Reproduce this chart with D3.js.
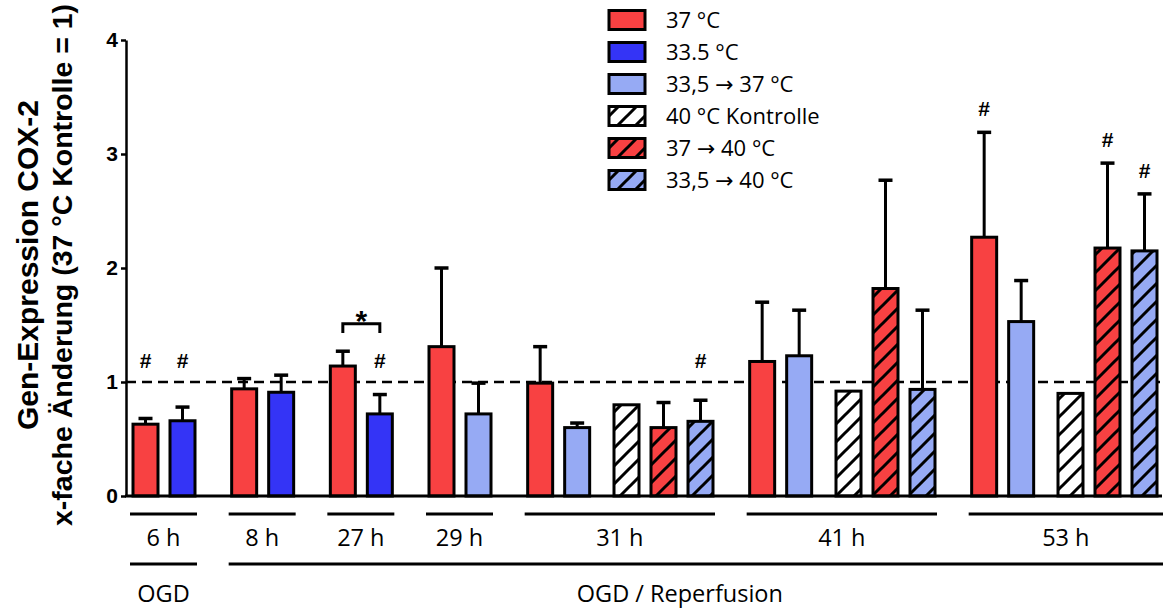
<!DOCTYPE html>
<html>
<head>
<meta charset="utf-8">
<script src="https://cdn.jsdelivr.net/npm/d3@7"></script>
<style>
  body { margin: 0; background: #fff; }
  #chart svg { display: block; }
</style>
</head>
<body>
<div id="chart"></div>
<script>
// Time points and the bars drawn at each of them
const groupLabels = ["6 h", "8 h", "27 h", "29 h", "31 h", "41 h", "53 h"];
const seriesNames = ["37 °C", "33.5 °C", "33,5 → 37 °C", "40 °C Kontrolle", "37 → 40 °C", "33,5 → 40 °C"];
const groupSeries = [[0, 1], [0, 1], [0, 1], [0, 2], [0, 2, 3, 4, 5], [0, 2, 3, 4, 5], [0, 2, 3, 4, 5]];
const groupMeans = [
    [0.63, 0.66],
    [0.94, 0.91],
    [1.14, 0.72],
    [1.31, 0.72],
    [0.99, 0.60, 0.80, 0.60, 0.655],
    [1.18, 1.23, 0.92, 1.82, 0.935],
    [2.27, 1.53, 0.90, 2.175, 2.15]
];
const groupErrors = [
    [0.05, 0.12],
    [0.09, 0.15],
    [0.13, 0.17],
    [0.69, 0.27],
    [0.32, 0.04, 0, 0.22, 0.185],
    [0.52, 0.40, 0, 0.95, 0.695],
    [0.92, 0.36, 0, 0.745, 0.50]
];
// "#" marks above single bars
const groupHash = [[1, 1], [0, 0], [0, 1], [0, 0], [0, 0, 0, 0, 1], [0, 0, 0, 0, 0], [1, 0, 0, 1, 1]];
// "*" bracket: group index, first bar, second bar
const sigPairs = [{ group: 2, a: 0, b: 1, label: "*" }];
// lower row of the x axis: label and the groups it covers
const phaseLabels = [{ label: "OGD", from: 0, to: 0 }, { label: "OGD / Reperfusion", from: 1, to: 6 }];
const yTicks = [0, 1, 2, 3, 4];

const seriesFill = ["#f84142", "#3434f6", "#96aaf4", "url(#hatch-white)", "url(#hatch-red)", "url(#hatch-light)"];

function renderChart() {
    const container = d3.select("#chart");
    container.html("");

    const width = 1163, height = 608;
    const svg = container.append("svg")
        .attr("width", width)
        .attr("height", height);

    // hatch patterns
    const defs = svg.append("defs");
    [["hatch-white", "#ffffff"], ["hatch-red", "#f84142"], ["hatch-light", "#96aaf4"]].forEach(([id, bg]) => {
        const p = defs.append("pattern")
            .attr("id", id)
            .attr("patternUnits", "userSpaceOnUse")
            .attr("width", 18)
            .attr("height", 18);
        p.append("rect").attr("width", 18).attr("height", 18).attr("fill", bg);
        p.append("path")
            .attr("d", "M-4.5,4.5 L4.5,-4.5 M0,18 L18,0 M13.5,22.5 L22.5,13.5")
            .attr("stroke", "#000")
            .attr("stroke-width", 3);
    });

    // flatten bars, with slot positions (gap 2/3 between groups, 1/3 inside the 5-bar groups)
    const bars = [];
    let pos = 0;
    groupSeries.forEach((list, g) => {
        if (g > 0) pos += 2 / 3;
        list.forEach((s, i) => {
            if (list.length === 5 && i === 2) pos += 1 / 3;
            bars.push({
                group: g, idx: i, series: s, slot: pos,
                mean: groupMeans[g][i], err: groupErrors[g][i], hash: groupHash[g][i]
            });
            pos += 1;
        });
    });

    const x = d3.scaleLinear().domain([0, pos]).range([133, 133 + pos * 37]);
    const barW = 25;
    const y = d3.scaleLinear().domain([0, 4]).range([496, 40]);

    const boldFont = "Liberation Sans, Arial, sans-serif";
    const labFont = "Open Sans, Noto Sans, sans-serif";

    // dashed reference line at 1
    svg.append("line")
        .attr("x1", 126).attr("x2", 1162)
        .attr("y1", y(1)).attr("y2", y(1))
        .attr("stroke", "#000")
        .attr("stroke-width", 2.5)
        .attr("stroke-dasharray", "10,6");

    // error bars (upwards only)
    const eb = svg.selectAll(".err")
        .data(bars.filter(d => d.err > 0))
        .join("g")
        .attr("class", "err");
    eb.append("line")
        .attr("x1", d => x(d.slot) + barW / 2).attr("x2", d => x(d.slot) + barW / 2)
        .attr("y1", d => y(d.mean)).attr("y2", d => y(d.mean + d.err))
        .attr("stroke", "#000").attr("stroke-width", 3);
    eb.append("line")
        .attr("x1", d => x(d.slot) + barW / 2 - 7).attr("x2", d => x(d.slot) + barW / 2 + 7)
        .attr("y1", d => y(d.mean + d.err)).attr("y2", d => y(d.mean + d.err))
        .attr("stroke", "#000").attr("stroke-width", 3.5);

    // bars
    svg.selectAll(".bar")
        .data(bars)
        .join("rect")
        .attr("class", "bar")
        .attr("x", d => x(d.slot))
        .attr("y", d => y(d.mean))
        .attr("width", barW)
        .attr("height", d => y(0) - y(d.mean))
        .attr("fill", d => seriesFill[d.series])
        .attr("stroke", "#000")
        .attr("stroke-width", 3);

    // # marks
    svg.selectAll(".hash")
        .data(bars.filter(d => d.hash))
        .join("text")
        .attr("class", "hash")
        .attr("x", d => x(d.slot) + barW / 2)
        .attr("y", d => Math.min(y(d.mean + d.err) - 16, y(1.12)))
        .attr("text-anchor", "middle")
        .attr("font-family", boldFont)
        .attr("font-weight", "bold")
        .attr("font-size", 21)
        .text("#");

    // significance bracket
    sigPairs.forEach(p => {
        const ba = bars.find(d => d.group === p.group && d.idx === p.a);
        const bb = bars.find(d => d.group === p.group && d.idx === p.b);
        const x1 = x(ba.slot) + barW / 2, x2 = x(bb.slot) + barW / 2;
        svg.append("path")
            .attr("d", `M${x1},${y(1.43)} V${y(1.51)} H${x2} V${y(1.43)}`)
            .attr("fill", "none")
            .attr("stroke", "#000")
            .attr("stroke-width", 3);
        svg.append("text")
            .attr("x", (x1 + x2) / 2)
            .attr("y", y(1.51) + 7)
            .attr("text-anchor", "middle")
            .attr("font-family", boldFont)
            .attr("font-weight", "bold")
            .attr("font-size", 30)
            .text(p.label);
    });

    // y axis
    const yAxis = svg.append("g")
        .attr("transform", "translate(126,0)")
        .call(d3.axisLeft(y).tickValues(yTicks).tickFormat(d3.format("d")).tickSize(5).tickSizeOuter(0).tickPadding(3));
    yAxis.select(".domain").attr("stroke-width", 2.5);
    yAxis.selectAll(".tick line").attr("stroke-width", 2.5);
    yAxis.selectAll(".tick text")
        .attr("font-family", boldFont)
        .attr("font-weight", "bold")
        .attr("font-size", 21)
        .attr("fill", "#000");

    // x axis baseline
    svg.append("line")
        .attr("x1", 125).attr("x2", 1162)
        .attr("y1", y(0)).attr("y2", y(0))
        .attr("stroke", "#000").attr("stroke-width", 3);

    // group underlines and labels
    const groupExtent = groupLabels.map((lab, g) => {
        const gb = bars.filter(d => d.group === g);
        return { label: lab, x0: x(gb[0].slot) - 3, x1: x(gb[gb.length - 1].slot) + barW + 2 };
    });
    groupExtent[groupExtent.length - 1].x1 = 1163;

    svg.selectAll(".gline")
        .data(groupExtent)
        .join("line")
        .attr("x1", d => d.x0).attr("x2", d => d.x1)
        .attr("y1", 514).attr("y2", 514)
        .attr("stroke", "#000").attr("stroke-width", 3);
    svg.selectAll(".glabel")
        .data(groupExtent)
        .join("text")
        .attr("x", d => (d.x0 + d.x1) / 2)
        .attr("y", 545.5)
        .attr("text-anchor", "middle")
        .attr("font-family", labFont)
        .attr("font-size", 23.5)
        .text(d => d.label);

    const phases = phaseLabels.map(p => ({
        label: p.label,
        x0: groupExtent[p.from].x0,
        x1: groupExtent[p.to].x1
    }));
    svg.selectAll(".pline")
        .data(phases)
        .join("line")
        .attr("x1", d => d.x0).attr("x2", d => d.x1)
        .attr("y1", 564).attr("y2", 564)
        .attr("stroke", "#000").attr("stroke-width", 3);
    svg.selectAll(".plabel")
        .data(phases)
        .join("text")
        .attr("x", (d, i) => (d.x0 + d.x1) / 2 - (i > 0 ? 16 : 0))
        .attr("y", 601.5)
        .attr("text-anchor", "middle")
        .attr("font-family", labFont)
        .attr("font-size", 23.5)
        .text(d => d.label);

    // y title, two lines
    const cy = y(2) - 3;
    svg.append("text")
        .attr("transform", `translate(38,${cy}) rotate(-90)`)
        .attr("text-anchor", "middle")
        .attr("font-family", boldFont)
        .attr("font-weight", "bold")
        .attr("font-size", 30)
        .text("Gen-Expression COX-2");
    svg.append("text")
        .attr("transform", `translate(72,${cy}) rotate(-90)`)
        .attr("text-anchor", "middle")
        .attr("font-family", boldFont)
        .attr("font-weight", "bold")
        .attr("font-size", 28.5)
        .text("x-fache Änderung (37 °C Kontrolle = 1)");

    // legend
    const legend = svg.selectAll(".legend")
        .data(seriesNames)
        .join("g")
        .attr("class", "legend")
        .attr("transform", (d, i) => `translate(609,${20 + i * 32})`);
    legend.append("rect")
        .attr("x", 0).attr("y", -9.5)
        .attr("width", 36).attr("height", 19)
        .attr("fill", (d, i) => seriesFill[i])
        .attr("stroke", "#000")
        .attr("stroke-width", 3);
    const lt = legend.append("text")
        .attr("x", 57)
        .attr("y", 8)
        .attr("font-family", labFont)
        .attr("font-size", 22);
    // arrows drawn with DejaVu, whose arrow glyph is wider
    lt.each(function (d) {
        const t = d3.select(this);
        d.split(/(→)/).forEach(part => {
            const sp = t.append("tspan").text(part);
            if (part === "→") sp.attr("font-family", "DejaVu Sans");
        });
    });
}
renderChart();
</script>
</body>
</html>
